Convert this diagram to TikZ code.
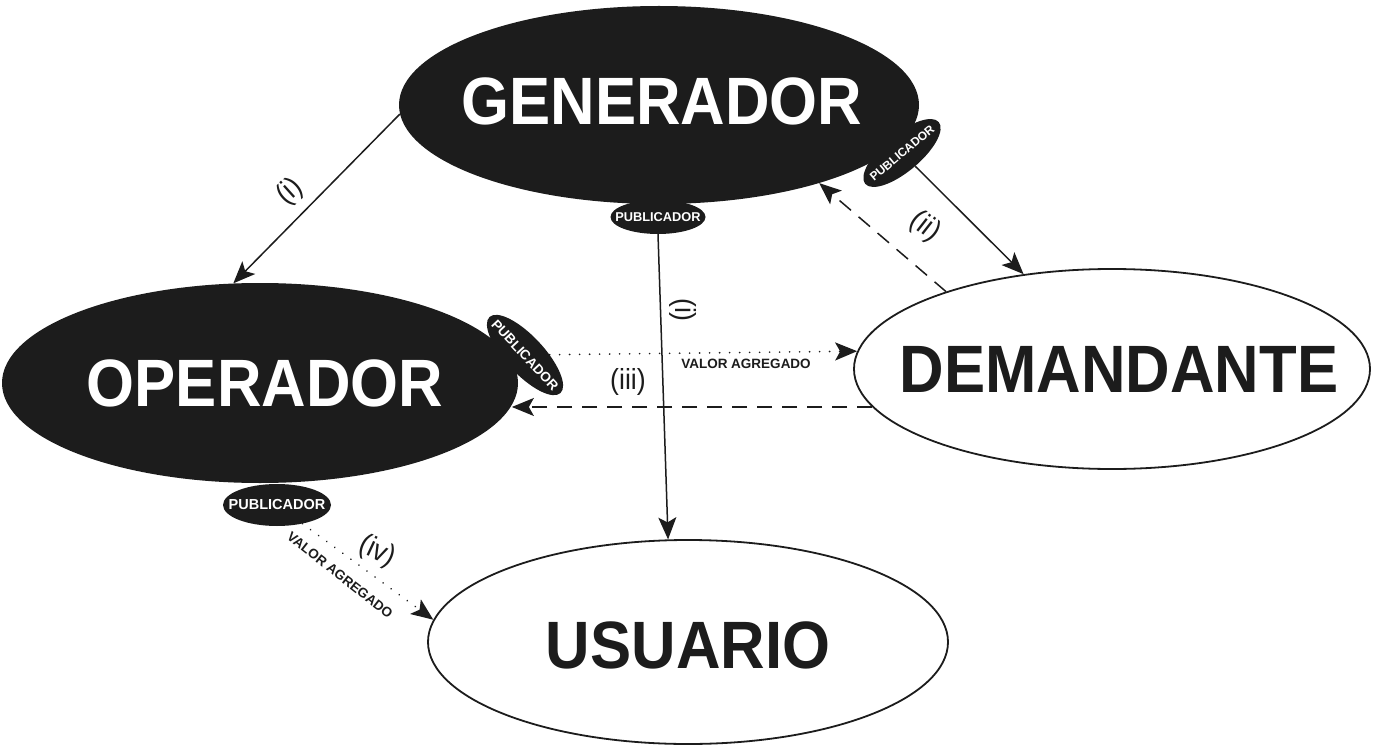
\documentclass[tikz,border=0pt]{standalone}
\usepackage{fontspec}
\setmainfont{Liberation Sans}
\newfontfamily\bigfont{Liberation Sans}[FakeStretch=0.92]
\usetikzlibrary{shapes.geometric,arrows.meta}
\definecolor{ink}{RGB}{28,28,28}
\begin{document}
\begin{tikzpicture}[x=1pt,y=-1pt,
  blackell/.style={ellipse, fill=ink, inner sep=0pt},
  whiteell/.style={ellipse, fill=white, draw=ink, line width=1.8pt, inner sep=0pt},
  bigtext/.style={font=\bigfont\bfseries\fontsize{67}{67}\selectfont, inner sep=0pt},
  pubell/.style={ellipse, fill=ink, inner sep=0pt},
  pubtext/.style={text=white, font=\bfseries\fontsize{#1}{#1}\selectfont, inner sep=0pt},
  numtext/.style={font=\bigfont\fontsize{29}{29}\selectfont, text=ink, inner sep=0pt},
  vatext/.style={font=\bfseries\fontsize{13.5}{13.5}\selectfont, text=ink, inner sep=0pt},
  conn/.style={line width=1.5pt, draw=ink, -{Stealth[length=22pt,width=18pt,inset=5pt]}},
  dconn/.style={conn, dash pattern=on 15pt off 10pt},
  pconn/.style={conn, line cap=round, dash pattern=on 0.01pt off 9.99pt, line width=1.8pt}
]
\useasboundingbox[fill=white] (0,0) rectangle (1373,746);

% main ellipses
\node[blackell, minimum width=520pt, minimum height=198pt,
  label={[bigtext, text=white, yshift=4pt, xshift=3pt]center:GENERADOR}] (g) at (659,105) {};
\node[blackell, minimum width=516pt, minimum height=200pt,
  label={[bigtext, text=white, xshift=5pt]center:OPERADOR}] (o) at (260,383) {};
\node[whiteell, minimum width=516pt, minimum height=200pt,
  label={[bigtext, text=ink, xshift=7pt]center:DEMANDANTE}] (d) at (1112,369) {};
\node[whiteell, minimum width=520pt, minimum height=204pt,
  label={[bigtext, text=ink, yshift=-3pt]center:USUARIO}] (u) at (688,642) {};

% publicador ellipses
\node[pubell, minimum width=95pt, minimum height=34pt,
  label={[pubtext=12.8]center:PUBLICADOR}] (pg1) at (658,217) {};
\node[pubell, rotate=40, minimum width=96pt, minimum height=37pt,
  label={[pubtext=12, rotate=40]center:PUBLICADOR}] (pg2) at (902,153) {};
\node[pubell, rotate=-47, minimum width=104pt, minimum height=38pt,
  label={[pubtext=13.6, rotate=-47]center:PUBLICADOR}] (po) at (525,355) {};
\node[pubell, minimum width=108pt, minimum height=42pt,
  label={[pubtext=14.5]center:PUBLICADOR}] (pb) at (277,505) {};

% connector end points
\coordinate (oin) at (d.189 -| o.-5);

% connectors
\draw[conn] (g.182) -- (o.105);
\draw[conn] (pg2) -- (d.133);
\draw[dconn] (d.155) -- (g.-26);
\draw[conn] (pg1.south) -- (u.101);
\draw[pconn] (po) -- (d.176);
\draw[dconn] (d.189) -- (oin);
\draw[pconn] (pb) -- (u.175);

% labels
\node[numtext, rotate=42] (l1) at (290,192) {(i)};
\node[numtext, rotate=-38] (l2) at (925,227) {(ii)};
\node[numtext, rotate=-90] (l3) at (683,310) {(i)};
\node[numtext] (l4) at (628,382) {(iii)};
\node[numtext, rotate=-25] (l5) at (377,552) {(iv)};
\node[vatext] (va1) at (746,364) {VALOR AGREGADO};
\node[vatext, rotate=-38] (va2) at (340,575) {VALOR AGREGADO};
\end{tikzpicture}
\end{document}
